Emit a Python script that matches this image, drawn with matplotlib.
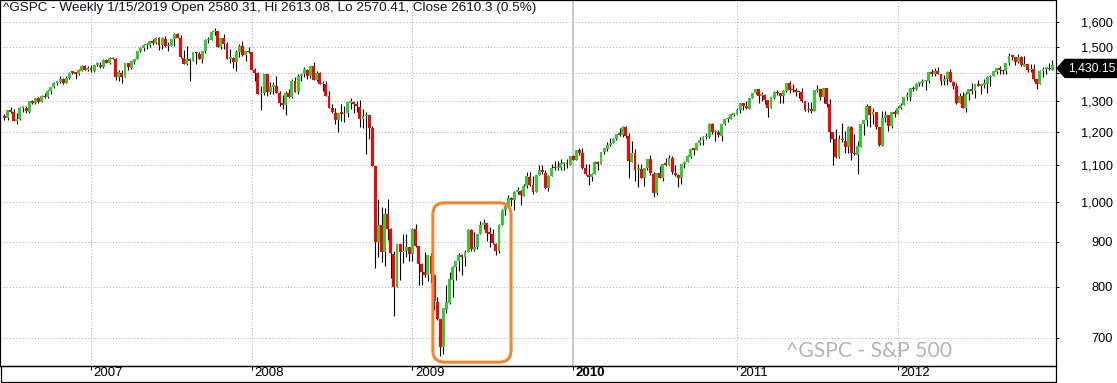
import numpy as np
import pandas as pd
import matplotlib
matplotlib.use("Agg")
import matplotlib.pyplot as plt
import matplotlib.transforms as mtransforms
from matplotlib.patches import FancyBboxPatch, Polygon, Rectangle
from matplotlib.ticker import NullLocator

plt.rcParams['font.family'] = ['Liberation Sans', 'DejaVu Sans']

# weekly bars, first week ends 2006-06-23, last week ends 2012-12-21
first_week = "2006-06-23"

opens = [
    # 2006
    1251, 1244, 1270, 1265, 1236, 1240, 1278, 1279, 1266, 1302, 1295, 1311, 1299, 1319,
    1314, 1335, 1349, 1365, 1368, 1377, 1364, 1381, 1401, 1400, 1396, 1409, 1427, 1410,
    # 2007
    1418, 1409, 1430, 1430, 1422, 1448, 1438, 1455, 1451, 1387, 1402, 1386, 1436, 1420,
    1443, 1452, 1484, 1494, 1505, 1505, 1522, 1515, 1536, 1507, 1532, 1502, 1503, 1530,
    1552, 1534, 1458, 1433, 1453, 1445, 1479, 1473, 1453, 1484, 1525, 1526, 1557, 1561,
    1500, 1535, 1509, 1453, 1458, 1440, 1481, 1504, 1467, 1484,
    # 2008
    1478, 1411, 1401, 1325, 1330, 1395, 1331, 1350, 1353, 1330, 1293, 1288, 1329, 1315,
    1370, 1332, 1390, 1397, 1413, 1388, 1425, 1375, 1400, 1360, 1360, 1317, 1278, 1262,
    1239, 1260, 1257, 1260, 1296, 1298, 1292, 1282, 1242, 1251, 1255, 1213, 1099, 899,
    940, 876, 968, 930, 873, 800, 896, 876, 879, 887,
    # 2009
    872, 931, 890, 850, 831, 825, 868, 826, 770, 735, 683, 756, 768, 815, 842, 856, 869,
    866, 877, 929, 882, 887, 919, 940, 946, 921, 918, 896, 879, 940, 979, 987, 1010, 1004,
    1026, 1028, 1016, 1042, 1068, 1044, 1025, 1071, 1087, 1079, 1036, 1069, 1093, 1091,
    1091, 1105, 1106, 1102, 1126,
    # 2010
    1115, 1145, 1136, 1091, 1073, 1066, 1075, 1109, 1104, 1138, 1149, 1159, 1166, 1178,
    1194, 1192, 1217, 1186, 1110, 1135, 1087, 1089, 1064, 1091, 1117, 1076, 1022, 1077,
    1064, 1102, 1101, 1121, 1079, 1071, 1064, 1104, 1109, 1125, 1148, 1146, 1165, 1176,
    1183, 1183, 1225, 1199, 1199, 1189, 1224, 1240, 1243, 1256,
    # 2011
    1257, 1271, 1293, 1283, 1276, 1310, 1329, 1343, 1319, 1321, 1304, 1279, 1313, 1332,
    1328, 1319, 1337, 1363, 1340, 1337, 1333, 1331, 1300, 1270, 1271, 1268, 1339, 1343,
    1316, 1345, 1292, 1199, 1178, 1123, 1176, 1173, 1154, 1216, 1136, 1131, 1155, 1224,
    1238, 1285, 1253, 1263, 1215, 1158, 1244, 1255, 1219, 1265,
    # 2012
    1257, 1277, 1289, 1315, 1316, 1344, 1342, 1361, 1365, 1370, 1370, 1404, 1397, 1408,
    1398, 1370, 1378, 1403, 1369, 1353, 1295, 1317, 1278, 1325, 1342, 1335, 1362, 1354,
    1356, 1362, 1385, 1390, 1405, 1418, 1411, 1406, 1437, 1465, 1460, 1440, 1460, 1428,
    1433, 1411, 1414, 1379, 1359, 1409, 1416, 1418, 1413,
]

highs = [
    # 2006
    1258, 1272, 1280, 1273, 1262, 1280, 1283, 1283, 1303, 1306, 1313, 1315, 1323, 1329,
    1340, 1350, 1366, 1372, 1390, 1381, 1388, 1403, 1407, 1403, 1415, 1431, 1430, 1427,
    # 2007
    1430, 1431, 1441, 1441, 1452, 1453, 1461, 1461, 1457, 1410, 1411, 1437, 1437, 1444,
    1453, 1485, 1498, 1510, 1513, 1522, 1529, 1540, 1540, 1539, 1541, 1518, 1531, 1556,
    1555, 1547, 1488, 1503, 1456, 1481, 1481, 1481, 1485, 1530, 1538, 1561, 1576, 1564,
    1535, 1552, 1520, 1492, 1460, 1488, 1510, 1523, 1485, 1498,
    # 2008
    1479, 1418, 1405, 1355, 1396, 1396, 1368, 1367, 1389, 1335, 1321, 1335, 1342, 1380,
    1386, 1395, 1398, 1422, 1416, 1425, 1440, 1406, 1404, 1370, 1370, 1335, 1291, 1277,
    1262, 1291, 1285, 1297, 1313, 1300, 1300, 1304, 1274, 1265, 1255, 1220, 1099, 1006,
    985, 984, 1007, 934, 880, 896, 896, 918, 918, 887,
    # 2009
    934, 943, 890, 851, 877, 870, 875, 827, 779, 735, 758, 804, 832, 845, 856, 875, 871,
    882, 930, 930, 924, 920, 951, 956, 946, 935, 931, 898, 943, 980, 996, 1018, 1013, 1027,
    1039, 1030, 1048, 1080, 1080, 1069, 1072, 1101, 1101, 1085, 1072, 1105, 1113, 1112,
    1119, 1108, 1117, 1128, 1130,
    # 2010
    1146, 1150, 1150, 1103, 1104, 1078, 1112, 1112, 1139, 1151, 1169, 1181, 1181, 1195,
    1214, 1218, 1220, 1197, 1173, 1148, 1104, 1105, 1093, 1119, 1131, 1080, 1079, 1099,
    1103, 1120, 1129, 1127, 1100, 1074, 1105, 1112, 1131, 1149, 1151, 1167, 1184, 1189,
    1196, 1227, 1227, 1207, 1206, 1225, 1241, 1247, 1259, 1262,
    # 2011
    1278, 1294, 1296, 1302, 1311, 1330, 1344, 1343, 1332, 1327, 1304, 1314, 1337, 1339,
    1328, 1338, 1364, 1371, 1359, 1346, 1334, 1346, 1300, 1298, 1298, 1341, 1356, 1344,
    1347, 1345, 1307, 1199, 1208, 1190, 1230, 1204, 1220, 1220, 1195, 1171, 1225, 1239,
    1292, 1285, 1277, 1264, 1215, 1268, 1267, 1255, 1266, 1270,
    # 2012
    1284, 1296, 1316, 1333, 1345, 1354, 1363, 1368, 1378, 1374, 1405, 1414, 1419, 1422,
    1398, 1392, 1406, 1415, 1373, 1365, 1328, 1334, 1334, 1343, 1363, 1362, 1374, 1357,
    1380, 1391, 1394, 1408, 1419, 1426, 1413, 1438, 1474, 1467, 1460, 1470, 1464, 1464,
    1435, 1434, 1433, 1380, 1410, 1421, 1420, 1439, 1448,
]

lows = [
    # 2006
    1238, 1237, 1260, 1235, 1224, 1238, 1265, 1262, 1261, 1290, 1292, 1294, 1297, 1310,
    1313, 1327, 1345, 1357, 1364, 1360, 1363, 1379, 1398, 1377, 1394, 1406, 1410, 1406,
    # 2007
    1403, 1404, 1425, 1420, 1420, 1437, 1433, 1451, 1374, 1373, 1364, 1386, 1410, 1416,
    1433, 1452, 1478, 1482, 1491, 1498, 1505, 1510, 1487, 1492, 1500, 1484, 1503, 1503,
    1533, 1458, 1432, 1429, 1370, 1445, 1432, 1451, 1439, 1476, 1515, 1526, 1546, 1500,
    1490, 1492, 1451, 1438, 1419, 1406, 1460, 1463, 1446, 1474,
    # 2008
    1411, 1370, 1325, 1270, 1322, 1320, 1325, 1327, 1328, 1284, 1274, 1256, 1311, 1312,
    1331, 1324, 1370, 1384, 1380, 1381, 1374, 1373, 1359, 1335, 1317, 1278, 1260, 1225,
    1200, 1234, 1233, 1247, 1274, 1261, 1263, 1217, 1212, 1133, 1179, 1099, 840, 865,
    853, 845, 904, 818, 741, 800, 815, 851, 866, 857,
    # 2009
    857, 888, 804, 804, 821, 812, 808, 754, 734, 667, 672, 747, 766, 779, 814, 835, 826,
    845, 877, 878, 879, 883, 919, 930, 903, 888, 896, 869, 875, 940, 965, 987, 990, 978,
    1019, 992, 1016, 1036, 1041, 1020, 1025, 1071, 1075, 1033, 1029, 1069, 1085, 1085,
    1086, 1086, 1093, 1102, 1115,
    # 2010
    1114, 1131, 1090, 1071, 1044, 1056, 1075, 1086, 1104, 1132, 1141, 1156, 1165, 1175,
    1186, 1183, 1181, 1065, 1110, 1055, 1040, 1064, 1042, 1087, 1071, 1011, 1018, 1063,
    1056, 1097, 1101, 1076, 1069, 1040, 1048, 1091, 1109, 1121, 1131, 1144, 1160, 1159,
    1177, 1181, 1194, 1173, 1185, 1173, 1222, 1232, 1242, 1250,
    # 2011
    1257, 1262, 1271, 1275, 1276, 1310, 1326, 1294, 1302, 1291, 1249, 1278, 1308, 1321,
    1294, 1296, 1333, 1329, 1331, 1318, 1311, 1297, 1268, 1265, 1262, 1268, 1334, 1306,
    1295, 1282, 1168, 1101, 1122, 1121, 1170, 1136, 1136, 1114, 1131, 1075, 1155, 1191,
    1220, 1215, 1226, 1209, 1158, 1158, 1231, 1202, 1212, 1248,
    # 2012
    1257, 1274, 1289, 1306, 1300, 1337, 1340, 1352, 1354, 1340, 1365, 1391, 1391, 1397,
    1357, 1358, 1358, 1367, 1343, 1291, 1295, 1277, 1266, 1306, 1324, 1310, 1352, 1325,
    1345, 1329, 1354, 1390, 1397, 1398, 1397, 1396, 1429, 1449, 1430, 1439, 1425, 1428,
    1403, 1405, 1373, 1343, 1359, 1385, 1398, 1411, 1413,
]

closes = [
    # 2006
    1244.5, 1270.2, 1265.5, 1236.2, 1240.3, 1278.6, 1279.4, 1266.7, 1302.3, 1295.1,
    1311.0, 1298.9, 1319.7, 1314.8, 1335.9, 1349.6, 1365.6, 1368.6, 1377.3, 1364.3,
    1380.9, 1401.2, 1400.9, 1396.7, 1409.8, 1427.1, 1410.8, 1418.3,
    # 2007
    1409.7, 1430.7, 1430.5, 1422.2, 1448.4, 1438.1, 1455.5, 1451.2, 1387.2, 1402.8,
    1386.9, 1436.1, 1420.9, 1443.8, 1452.9, 1484.4, 1494.1, 1505.6, 1505.9, 1522.8,
    1515.7, 1536.3, 1507.7, 1532.9, 1502.6, 1503.4, 1530.4, 1552.5, 1534.1, 1458.9,
    1433.1, 1453.6, 1445.9, 1479.4, 1474.0, 1453.6, 1484.3, 1525.8, 1526.8, 1557.6,
    1561.8, 1500.6, 1535.3, 1509.6, 1453.7, 1458.7, 1440.7, 1481.1, 1504.7, 1468.0,
    1484.5, 1478.5,
    # 2008
    1411.6, 1401.0, 1325.2, 1330.6, 1395.4, 1331.3, 1350.0, 1353.1, 1330.6, 1293.4,
    1288.1, 1329.5, 1315.2, 1370.4, 1332.8, 1390.3, 1397.8, 1413.9, 1388.3, 1425.4,
    1375.9, 1400.4, 1360.7, 1360.0, 1317.9, 1278.4, 1262.9, 1239.5, 1260.7, 1257.8,
    1260.3, 1296.3, 1298.2, 1292.2, 1282.8, 1242.3, 1251.7, 1255.1, 1213.3, 1099.2,
    899.2, 940.6, 876.8, 968.8, 931.0, 873.3, 800.0, 896.2, 876.1, 879.7, 887.9, 872.8,
    # 2009
    931.8, 890.4, 850.1, 832.0, 825.9, 868.6, 826.8, 770.1, 735.1, 683.4, 756.6, 768.5,
    815.9, 842.5, 856.6, 869.6, 866.2, 877.5, 929.2, 882.9, 887.0, 919.1, 940.1, 946.2,
    921.2, 918.9, 896.4, 879.1, 940.4, 979.3, 987.5, 1010.5, 1004.1, 1026.1, 1028.9,
    1016.4, 1042.7, 1068.3, 1044.4, 1025.2, 1071.5, 1087.7, 1079.6, 1036.2, 1069.3,
    1093.5, 1091.4, 1091.5, 1106.0, 1106.4, 1102.5, 1126.5, 1115.1,
    # 2010
    1145.0, 1136.0, 1091.8, 1073.9, 1066.2, 1075.5, 1109.2, 1104.5, 1138.7, 1150.0,
    1159.9, 1166.6, 1178.1, 1194.4, 1192.1, 1217.3, 1186.7, 1110.9, 1135.7, 1087.7,
    1089.4, 1064.9, 1091.6, 1117.5, 1076.8, 1022.6, 1078.0, 1064.9, 1102.7, 1101.6,
    1121.6, 1079.3, 1071.7, 1064.6, 1104.5, 1109.6, 1125.6, 1148.7, 1146.2, 1165.2,
    1176.2, 1183.1, 1183.3, 1225.9, 1199.2, 1199.7, 1189.4, 1224.7, 1240.4, 1243.9,
    1256.8, 1257.6,
    # 2011
    1271.5, 1293.2, 1283.4, 1276.3, 1310.9, 1329.2, 1343.0, 1319.9, 1321.2, 1304.3,
    1279.2, 1313.8, 1332.4, 1328.2, 1319.7, 1337.4, 1363.6, 1340.2, 1337.8, 1333.3,
    1331.1, 1300.2, 1271.0, 1271.5, 1268.5, 1339.7, 1343.8, 1316.1, 1345.0, 1292.3,
    1199.4, 1178.8, 1123.5, 1176.8, 1174.0, 1154.2, 1216.0, 1136.4, 1131.4, 1155.5,
    1224.6, 1238.3, 1285.1, 1253.2, 1263.9, 1215.7, 1158.7, 1244.3, 1255.2, 1219.7,
    1265.3, 1257.6,
    # 2012
    1277.8, 1289.1, 1315.4, 1316.3, 1344.9, 1342.6, 1361.2, 1365.7, 1370.0, 1370.9,
    1404.2, 1397.1, 1408.5, 1398.1, 1370.3, 1378.5, 1403.4, 1369.1, 1353.4, 1295.2,
    1317.8, 1278.0, 1325.7, 1342.8, 1335.0, 1362.2, 1354.7, 1356.8, 1362.7, 1386.0,
    1391.0, 1405.9, 1418.2, 1411.1, 1406.6, 1437.9, 1465.8, 1460.2, 1440.7, 1460.9,
    1428.6, 1433.2, 1411.9, 1414.2, 1379.9, 1359.9, 1409.2, 1416.2, 1418.1, 1413.6,
    1430.15,
]

price_ticks = [700, 800, 900, 1000, 1100, 1200, 1300, 1400, 1500, 1600]
title = "^GSPC - Weekly 1/15/2019 Open 2580.31, Hi 2613.08, Lo 2570.41, Close 2610.3 (0.5%)"
watermark = "^GSPC - S&P 500"
# highlighted rally (bar index range, price range)
box_bars = (138.6, 163.9)
box_prices = (657, 997)

opens = np.array(opens, float)
highs = np.array(highs, float)
lows = np.array(lows, float)
closes = np.array(closes, float)
dates = pd.date_range(first_week, periods=len(closes), freq="W-FRI")
x = np.arange(len(closes))

W, H = 1117, 383
fig = plt.figure(figsize=(W / 100, H / 100), dpi=100)
ax = fig.add_axes([0, 17 / H, 1056 / W, 366 / H])
ax.set_yscale('log')
ax.set_xlim(-1.44, 340.2)
ax.set_ylim(650.5, 1695)

# grid
grid_c = '#b4b4b4'
for p in price_ticks:
    ax.axhline(p, color=grid_c, lw=0.75, ls=(0, (1, 2)), zorder=1)
years = dates.year
year_idx = [i for i in range(1, len(dates)) if years[i] != years[i - 1]]
for i in year_idx:
    if years[i] == 2010:
        ax.axvline(i, color='#c0c0c0', lw=1.2, zorder=1)
    else:
        ax.axvline(i, color=grid_c, lw=0.75, ls=(0, (1, 2)), zorder=1)

# candles
up = closes >= opens
colors = np.where(up, '#33cc33', '#ff0000')
ax.vlines(x, lows, highs, color='black', lw=0.8, zorder=2)
body_lo = np.minimum(opens, closes)
body_hi = np.maximum(np.maximum(opens, closes), body_lo * 1.004)
ax.bar(x, body_hi - body_lo, bottom=body_lo, width=0.95, color=colors,
       linewidth=0, zorder=3)

# axes styling
for s in ax.spines.values():
    s.set_color('black')
    s.set_linewidth(0.9)
ax.yaxis.tick_right()
ax.yaxis.set_minor_locator(NullLocator())
ax.set_yticks(price_ticks)
ax.set_yticklabels([f"{p:,}" for p in price_ticks])
ax.tick_params(axis='y', which='major', direction='out', length=2.2, width=0.75,
               pad=38.5, labelsize=9.2, labelcolor='black')
for t in ax.get_yticklabels():
    t.set_ha('right')

ax.set_xticks(year_idx)
ax.set_xticklabels([])
ax.tick_params(axis='x', direction='out', length=3, width=0.75)
blend = mtransforms.blended_transform_factory(ax.transData, ax.transAxes)
for i in year_idx:
    yr = years[i]
    ax.text(i + 0.9, -0.004, str(yr), transform=blend, ha='left', va='top',
            fontsize=9.5, color='black', clip_on=False,
            fontweight='bold' if yr == 2010 else 'normal')

# bottom date strip frame
fig.add_artist(Rectangle((0.5 / W, 1 / H), 1055.5 / W, 16 / H, fill=False,
                         ec='black', lw=0.9, transform=fig.transFigure))

ax.text(3 / 1056, 1 - 2 / 366, title, transform=ax.transAxes, ha='left', va='top',
        fontsize=9.7, color='#111122')
ax.text(786 / 1056, 9 / 366, watermark, transform=ax.transAxes, ha='left',
        va='baseline', fontsize=15.2, color='#b4b4b4', family=['Lato', 'DejaVu Sans'])

# highlight box
(bx0, by0) = ax.transData.transform((box_bars[0], box_prices[0]))
(bx1, by1) = ax.transData.transform((box_bars[1], box_prices[1]))
fig.add_artist(FancyBboxPatch((bx0, by0), bx1 - bx0, by1 - by0,
                              boxstyle="round,pad=0,rounding_size=12",
                              fill=False, ec='#f5842a', lw=2.2,
                              transform=mtransforms.IdentityTransform(), zorder=5))

# last price tag
ty = ax.transData.transform((0, closes[-1]))[1] - 3.5
tag = Polygon([(1057, ty), (1065, ty + 9), (W, ty + 9), (W, ty - 9), (1065, ty - 9)],
              closed=True, fc='black', ec='black',
              transform=mtransforms.IdentityTransform(), zorder=10)
fig.add_artist(tag)
fig.text(1091.5 / W, ty / H, f"{closes[-1]:,.2f}", ha='center', va='center',
         fontsize=8.8, color='white', zorder=11)

fig.savefig("out.png", dpi=100)
